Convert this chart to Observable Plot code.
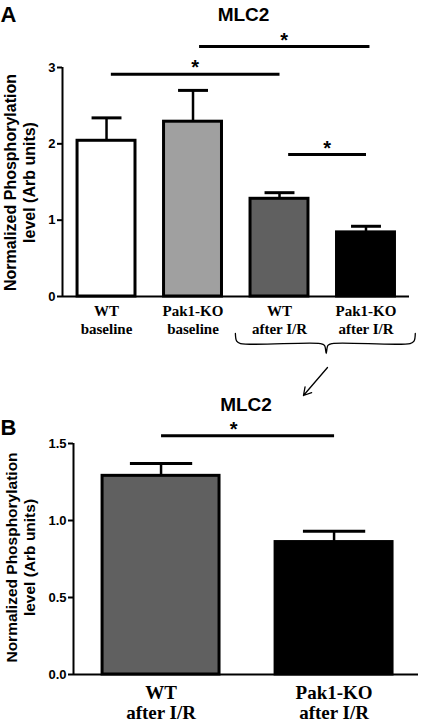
<!DOCTYPE html>
<html><head><meta charset="utf-8">
<script src="https://cdn.jsdelivr.net/npm/d3@7"></script>
<script src="https://cdn.jsdelivr.net/npm/@observablehq/plot@0.6"></script>
<style>
body{margin:0;background:#fff;}
#wrap{position:relative;width:424px;height:724px;overflow:hidden;background:#fff;}
#wrap svg{position:absolute;left:0;}
#wrap svg text{font-weight:700;}
</style></head><body><div id="wrap"></div>
<script>
// ---- Panel A data ----
const categoriesA = ["WT\nbaseline", "Pak1-KO\nbaseline", "WT\nafter I/R", "Pak1-KO\nafter I/R"];
const meanA = [2.04, 2.29, 1.28, 0.84];
const semA = [0.30, 0.41, 0.08, 0.08];
const ticksA = [0, 1, 2, 3];
const sigA = [
  {from: 0.05, to: 2.0, y: 2.91},
  {from: 1.07, to: 3.04, y: 3.275},
  {from: 2.1, to: 3.0, y: 1.86}
];
// ---- Panel B data ----
const categoriesB = ["WT\nafter I/R", "Pak1-KO\nafter I/R"];
const meanB = [1.29, 0.86];
const semB = [0.08, 0.07];
const ticksB = [0, 0.5, 1.0, 1.5];
const sigB = [{from: 0, to: 1, y: 1.55}];
const titleText = "MLC2";
const yTitle = "Normalized Phosphorylation\nlevel (Arb units)";

// styles
const barColorsA = ["#ffffff", "#a0a0a0", "#606060", "#000000"];
const barColorsB = ["#606060", "#000000"];
const SANS = "'Liberation Sans', Arial, Helvetica, sans-serif";
const SERIF = "'Liberation Serif', 'Times New Roman', serif";

const A = categoriesA.map((c, i) => ({i, label: c, mean: meanA[i], sem: semA[i], color: barColorsA[i]}));
const B = categoriesB.map((c, i) => ({i, label: c, mean: meanB[i], sem: semB[i], color: barColorsB[i]}));

function barMarks(D, half, cap, xMin, yMax) {
  return [
    Plot.ruleX(D, {x: "i", y1: "mean", y2: d => d.mean + d.sem, strokeWidth: 2.5}),
    Plot.link(D, {x1: d => d.i - cap, x2: d => d.i + cap, y1: d => d.mean + d.sem, y2: d => d.mean + d.sem, strokeWidth: 3}),
    Plot.rect(D, {x1: d => d.i - half, x2: d => d.i + half, y1: () => 0, y2: "mean", fill: "color", stroke: "#000", strokeWidth: 3}),
    Plot.ruleX([xMin], {y1: 0, y2: yMax, strokeWidth: 2}),
    Plot.ruleY([0], {strokeWidth: 2})
  ];
}

// ---- Panel A ----
const xDomA = [-0.509, 3.503];
// brace under the two I/R groups and arrow to panel B
const bs = 2 - 0.51, be = 3 + 0.57, bm = 2.54;
const brace = [
  {x: bs, y: -0.485}, {x: bs + 0.015, y: -0.585}, {x: bs + 0.06, y: -0.616},
  {x: bm - 0.07, y: -0.616}, {x: bm - 0.02, y: -0.64}, {x: bm, y: -0.747},
  {x: bm + 0.02, y: -0.64}, {x: bm + 0.07, y: -0.616},
  {x: be - 0.06, y: -0.616}, {x: be - 0.015, y: -0.585}, {x: be, y: -0.485}
];
const arrow = [{x1: 2.555, y1: -0.93, x2: 2.277, y2: -1.297}];

const plotA = Plot.plot({
  width: 424, height: 400,
  marginLeft: 62, marginRight: 15, marginTop: 67, marginBottom: 104,
  x: {domain: xDomA, axis: null},
  y: {domain: [0, 3]},
  color: {type: "identity"},
  style: {background: "transparent", overflow: "visible", fontFamily: SANS, color: "#000"},
  marks: [
    ...barMarks(A, 0.335, 0.173, xDomA[0], 3),
    Plot.axisY({ticks: ticksA, tickFormat: d3.format("d"), tickSize: 5, tickPadding: 2, fontSize: 13, fontWeight: "bold", strokeWidth: 2, label: null, fontFamily: SANS}),
    Plot.link(sigA, {x1: "from", x2: "to", y1: "y", y2: "y", strokeWidth: 3}),
    Plot.text(sigA, {x: d => (d.from + d.to) / 2, y: "y", text: () => "*", lineAnchor: "bottom", fontSize: 20, fontWeight: "bold", fontFamily: SANS}),
    Plot.text(A, {x: "i", text: "label", frameAnchor: "bottom", dy: 23, lineAnchor: "middle", textAnchor: "middle", lineHeight: 1.2, fontSize: 15, fontWeight: "bold", fontFamily: SERIF}),
    Plot.line(brace, {x: "x", y: "y", stroke: "#000", strokeWidth: 1.3, curve: "catmull-rom"}),
    Plot.arrow(arrow, {x1: "x1", y1: "y1", x2: "x2", y2: "y2", strokeWidth: 1.3, headLength: 10}),
    Plot.text([titleText], {frameAnchor: "top", dx: 7.5, dy: -52.5, lineAnchor: "middle", textAnchor: "middle", fontSize: 19, fontWeight: "bold", fontFamily: SANS}),
    Plot.text(["A"], {frameAnchor: "top-left", dx: -62, dy: -52.5, lineAnchor: "middle", textAnchor: "start", fontSize: 22, fontWeight: "bold", fontFamily: SANS}),
    Plot.text([yTitle], {frameAnchor: "left", dx: -43, dy: 0.5, rotate: -90, lineAnchor: "middle", textAnchor: "middle", lineHeight: 1.15, fontSize: 16, fontWeight: "bold", fontFamily: SANS})
  ]
});

// ---- Panel B ----
const xDomB = [-0.506, 1.488];
const plotB = Plot.plot({
  width: 424, height: 344,
  marginLeft: 73, marginRight: 6, marginTop: 63, marginBottom: 50,
  x: {domain: xDomB, axis: null},
  y: {domain: [0, 1.5]},
  color: {type: "identity"},
  style: {background: "transparent", overflow: "visible", fontFamily: SANS, color: "#000"},
  marks: [
    ...barMarks(B, 0.338, 0.18, xDomB[0], 1.5),
    Plot.axisY({ticks: ticksB, tickFormat: d3.format(".1f"), tickSize: 5, tickPadding: 2, fontSize: 13, fontWeight: "bold", strokeWidth: 2, label: null, fontFamily: SANS}),
    Plot.link(sigB, {x1: "from", x2: "to", y1: "y", y2: "y", strokeWidth: 3}),
    Plot.text(sigB, {x: d => (d.from + d.to) / 2 - 0.08, y: "y", text: () => "*", lineAnchor: "bottom", fontSize: 20, fontWeight: "bold", fontFamily: SANS}),
    Plot.text(B, {x: "i", text: "label", frameAnchor: "bottom", dy: 28, lineAnchor: "middle", textAnchor: "middle", lineHeight: 1.08, fontSize: 19, fontWeight: "bold", fontFamily: SERIF}),
    Plot.text([titleText], {frameAnchor: "top", dx: 0, dy: -39, lineAnchor: "middle", textAnchor: "middle", fontSize: 19, fontWeight: "bold", fontFamily: SANS}),
    Plot.text(["B"], {frameAnchor: "top-left", dx: -73, dy: -16, lineAnchor: "middle", textAnchor: "start", fontSize: 22, fontWeight: "bold", fontFamily: SANS}),
    Plot.text([yTitle], {frameAnchor: "left", dx: -53.5, dy: -1.5, rotate: -90, lineAnchor: "middle", textAnchor: "middle", lineHeight: 1.2, fontSize: 15.5, fontWeight: "bold", fontFamily: SANS})
  ]
});

const wrap = document.getElementById("wrap");
plotA.style.top = "0px";
plotB.style.top = "380px";
wrap.appendChild(plotA);
wrap.appendChild(plotB);
</script>
</body></html>
